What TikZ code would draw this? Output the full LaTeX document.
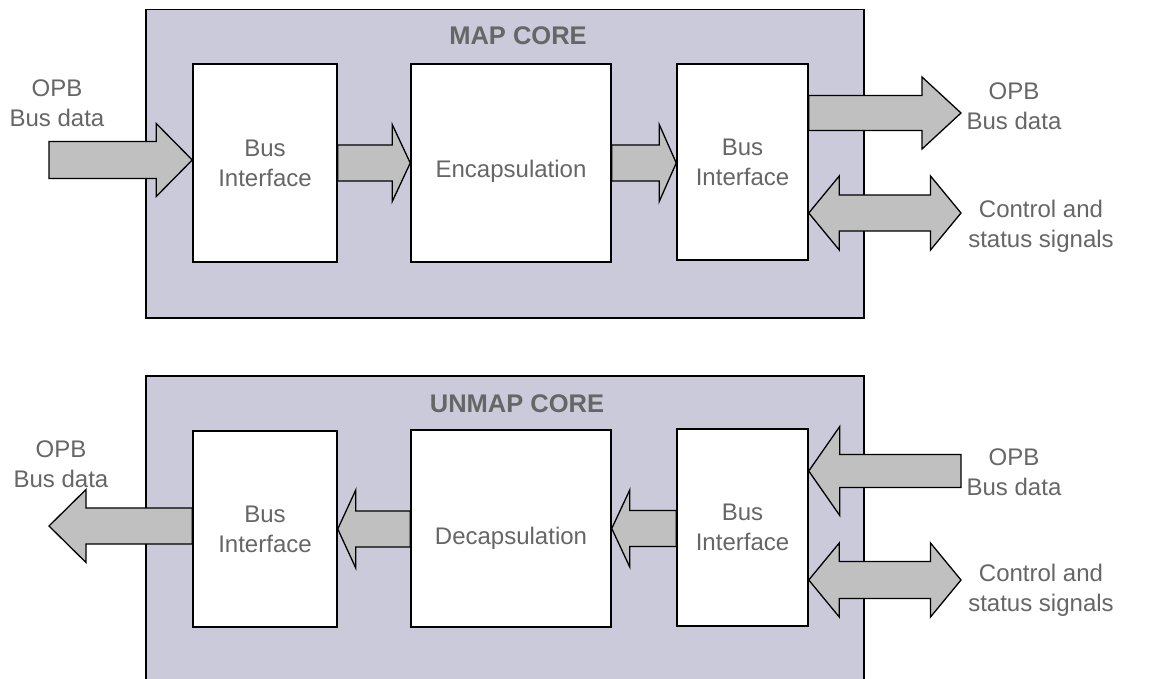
\documentclass[tikz,border=0pt]{standalone}
\usepackage{fontspec}
\setmainfont{Liberation Sans}
\usetikzlibrary{calc}
\definecolor{panelfill}{HTML}{CBCADB}
\definecolor{arrfill}{HTML}{C0C0C0}
\definecolor{txtgray}{HTML}{666666}
% single block arrow: #1 tail (x used), #2 tip, #3 shaft half width, #4 head half width, #5 head length
\newcommand\fatarrow[5]{%
  \draw[barr] let \p1=#1, \p2=#2, \p3=($(\p2)!#5!(\x1,\y2)$) in
    (\x1,\y2+#3) -- (\x3,\y2+#3) -- (\x3,\y2+#4) -- (\x2,\y2) --
    (\x3,\y2-#4) -- (\x3,\y2-#3) -- (\x1,\y2-#3) -- cycle;}
% double block arrow: #1 left tip (x used), #2 right tip, #3 shaft hw, #4 head hw, #5 head length
\newcommand\dblarrow[5]{%
  \draw[barr] let \p1=#1, \p2=#2 in
    (\x1,\y2) -- (\x1+#5,\y2+#4) -- (\x1+#5,\y2+#3) -- (\x2-#5,\y2+#3) --
    (\x2-#5,\y2+#4) -- (\x2,\y2) -- (\x2-#5,\y2-#4) -- (\x2-#5,\y2-#3) --
    (\x1+#5,\y2-#3) -- (\x1+#5,\y2-#4) -- cycle;}
\begin{document}
\begin{tikzpicture}[x=1pt,y=-1pt,
  panel/.style={draw=black, line width=1.5pt, fill=panelfill, inner sep=0pt, anchor=north west},
  blk/.style={draw=black, line width=1.5pt, fill=white, inner sep=0pt, text=txtgray,
    font=\fontsize{24}{30}\selectfont, align=center},
  barr/.style={draw=black, line width=1.3pt, fill=arrfill, line join=miter},
  lbl/.style={text=txtgray, font=\fontsize{24}{30}\selectfont, align=center, inner sep=0pt},
  ttl/.style={text=txtgray, font=\fontsize{25.5}{30}\selectfont\bfseries, inner sep=0pt}]
\useasboundingbox (0,0) rectangle (1175,679);
\clip (0,0) rectangle (1175,679);
\fill[white] (0,0) rectangle (1175,679);

% ---------------- MAP CORE ----------------
\node[panel, minimum width=718pt, minimum height=308pt] (map) at (145,9) {};
\node[ttl] (maptitle) at (518,35.5) {MAP CORE};
\coordinate (mapin) at (49,160);
\coordinate (mapout) at (961,113);
\coordinate (mapctl) at (961,213);
\node[blk, minimum width=144pt, minimum height=198pt] (bi1) at (265,163) {Bus\\Interface};
\node[blk, minimum width=200pt, minimum height=198pt] (enc) at (511,163) {};
\node[blk, minimum width=131pt, minimum height=196pt] (bi2) at (742.5,162) {Bus\\Interface};
\node[lbl] (enctxt) at ($(enc.center)+(0,8)$) {Encapsulation};

\fatarrow{(mapin)}{(bi1.west |- mapin)}{18.5pt}{36.5pt}{36pt}
\fatarrow{(bi1.east)}{(enc.west)}{18pt}{38.5pt}{18pt}
\fatarrow{(enc.east)}{(bi2.west |- enc.east)}{18pt}{38.5pt}{17pt}
\fatarrow{(bi2.east)}{(mapout)}{17.5pt}{36pt}{39pt}
\dblarrow{(bi2.east |- mapctl)}{(mapctl)}{18pt}{37pt}{30.5pt}

\node[lbl] (mapinlbl) at (57,103) {OPB\\Bus data};
\node[lbl] (mapoutlbl) at (1014,106) {OPB\\Bus data};
\node[lbl] (mapctllbl) at (1041,226) {Control and\\status signals};

% ---------------- UNMAP CORE ----------------
\node[panel, minimum width=718pt, minimum height=330pt] (unmap) at (145,375) {};
\node[ttl] (unmaptitle) at (517,404) {UNMAP CORE};
\coordinate (unout) at (49,526);
\coordinate (unin) at (961,471);
\coordinate (unctl) at (961,580);
\node[blk, minimum width=144pt, minimum height=196pt] (ubi1) at (265,529) {Bus\\Interface};
\node[blk, minimum width=200pt, minimum height=197pt] (dec) at (511,528.5) {};
\node[blk, minimum width=131pt, minimum height=197pt] (ubi2) at (742.5,527.5) {Bus\\Interface};
\node[lbl] (dectxt) at ($(dec.center)+(0,10)$) {Decapsulation};

\fatarrow{(ubi1.west)}{(unout)}{18pt}{36.5pt}{37pt}
\fatarrow{(dec.west)}{(ubi1.east)}{18pt}{39pt}{18pt}
\fatarrow{(ubi2.west)}{(dec.east)}{18pt}{38.5pt}{18pt}
\fatarrow{(unin)}{(ubi2.east |- unin)}{16.5pt}{44.5pt}{31pt}
\dblarrow{(ubi2.east |- unctl)}{(unctl)}{18.5pt}{37pt}{30.5pt}

\node[lbl] (unoutlbl) at (61,464) {OPB\\Bus data};
\node[lbl] (uninlbl) at (1014,472.5) {OPB\\Bus data};
\node[lbl] (unctllbl) at (1041,590) {Control and\\status signals};
\end{tikzpicture}
\end{document}
